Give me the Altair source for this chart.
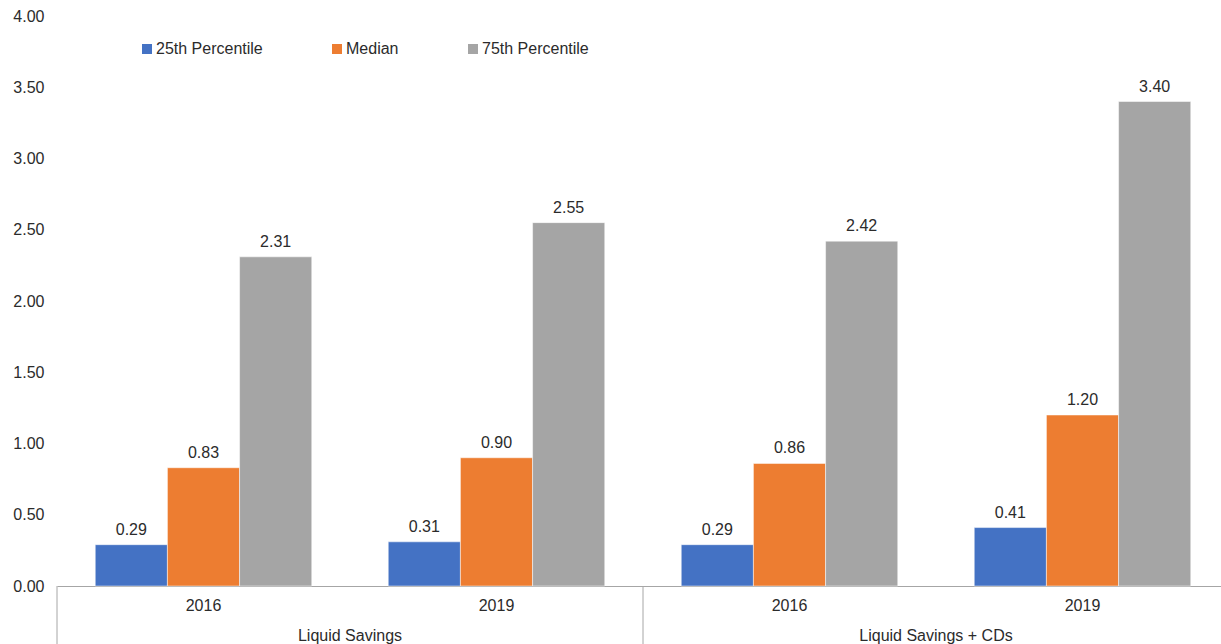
import altair as alt
import pandas as pd

groups = ["Liquid Savings", "Liquid Savings", "Liquid Savings + CDs", "Liquid Savings + CDs"]
years = ["2016", "2019", "2016", "2019"]
series = ["25th Percentile", "Median", "75th Percentile"]
colors = ["#4472C4", "#ED7D31", "#A5A5A5"]
p25 = [0.29, 0.31, 0.29, 0.41]
median = [0.83, 0.90, 0.86, 1.20]
p75 = [2.31, 2.55, 2.42, 3.40]
y_ticks = [0, 0.5, 1.0, 1.5, 2.0, 2.5, 3.0, 3.5, 4.0]

cats = [f"{g}|{y}" for g, y in zip(groups, years)]

rows = []
for i, c in enumerate(cats):
    for s, vals in zip(series, [p25, median, p75]):
        rows.append({"cat": c, "series": s, "value": vals[i]})
df = pd.DataFrame(rows)

cat_df = pd.DataFrame({"cat": cats, "year": years, "group": groups})
first_of_group = cat_df.drop_duplicates("group")

FONT = "Liberation Sans"
FS = 16
TXT = "#2b2b2b"
LINE = "#A6A6A6"
W, H = 1172, 570

xscale = alt.Scale(paddingInner=0, paddingOuter=0)
oscale = alt.Scale(paddingOuter=0.53, paddingInner=0)


def xenc(**kw):
    return alt.X("cat:N", sort=cats, scale=xscale, **kw)


bars = alt.Chart(df).mark_bar(stroke="white", strokeWidth=0.5).encode(
    x=xenc(axis=alt.Axis(labels=False, ticks=False, title=None, domainColor=LINE, domainWidth=1)),
    xOffset=alt.XOffset("series:N", sort=series, scale=oscale),
    y=alt.Y("value:Q", scale=alt.Scale(domain=[0, 4]),
            axis=alt.Axis(values=y_ticks, format=".2f", title=None, grid=False,
                          domain=False, ticks=False, tickSize=0, labelPadding=13,
                          labelFontSize=FS, labelColor=TXT, labelFont=FONT)),
    color=alt.Color("series:N", sort=series,
                    scale=alt.Scale(domain=series, range=colors),
                    legend=alt.Legend(orient="none", legendX=82, legendY=25,
                                      direction="horizontal", title=None,
                                      symbolType="square", symbolSize=100,
                                      symbolStrokeWidth=0, labelFontSize=FS,
                                      labelFont=FONT, labelColor=TXT,
                                      labelOffset=1, columnPadding=66, padding=0)),
)

values = alt.Chart(df).mark_text(baseline="bottom", dy=-7, fontSize=FS, font=FONT, color=TXT).encode(
    x=xenc(),
    xOffset=alt.XOffset("series:N", sort=series, scale=oscale),
    y=alt.Y("value:Q"),
    text=alt.Text("value:Q", format=".2f"),
)

seps = alt.Chart(first_of_group).mark_rule(color=LINE, strokeWidth=1).encode(
    x=xenc(bandPosition=0),
    y=alt.value(H),
    y2=alt.value(H + 58),
)

year_labels = alt.Chart(cat_df).mark_text(baseline="middle", fontSize=FS, font=FONT, color=TXT).encode(
    x=xenc(),
    y=alt.value(H + 20),
    text="year:N",
)

group_labels = alt.Chart(first_of_group).mark_text(baseline="middle", fontSize=FS, font=FONT, color=TXT).encode(
    x=xenc(bandPosition=1),
    y=alt.value(H + 50),
    text="group:N",
)

chart = alt.layer(bars, values, seps, year_labels, group_labels).properties(
    width=W, height=H,
    autosize=alt.AutoSizeParams(type="none"),
    padding={"left": 57, "top": 16, "right": -8, "bottom": 58},
).configure(font=FONT, view=alt.ViewConfig(stroke=None))

chart.save("out.html", embed_options={"renderer": "svg", "actions": False})
